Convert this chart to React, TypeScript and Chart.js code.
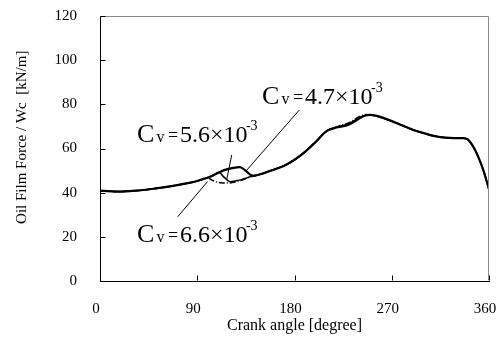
import React, { useEffect, useRef } from "react";
import { Chart, registerables } from "chart.js";

Chart.register(...registerables);

// Crank angle [degree]
const angles = [0, 10, 20, 30, 40, 50, 60, 70, 80, 90, 95, 100, 105, 110, 115, 120, 125, 130, 135, 140, 145, 150, 160, 170, 180, 190, 200, 210, 220, 230, 240, 245, 250, 255, 260, 270, 280, 290, 300, 310, 320, 330, 335, 340, 345, 350, 355, 360];

// Oil film force / Wc [kN/m]
const cv47 = [40.9, 40.6, 40.5, 40.8, 41.2, 41.8, 42.5, 43.3, 44.2, 45.3, 46.1, 46.9, 47.9, 49.1, 50.2, 50.9, 51.3, 51.5, 49.9, 47.9, 47.9, 48.6, 50.3, 52.1, 54.9, 58.6, 63.2, 68.0, 69.6, 70.8, 73.6, 74.8, 75.2, 74.9, 74.2, 72.4, 70.4, 68.4, 66.9, 65.6, 64.9, 64.7, 64.7, 64.2, 61.2, 56.3, 49.8, 41.5];
const cv56 = [40.9, 40.6, 40.5, 40.8, 41.2, 41.8, 42.5, 43.3, 44.2, 45.3, 46.1, 46.9, 47.9, 49.2, 46.9, 45.0, 45.3, 45.8, 46.5, 47.4, 47.9, 48.6, 50.3, 52.1, 54.9, 58.6, 63.2, 68.0, 69.8, 71.2, 74.0, 75.0, 75.2, 74.8, 74.1, 72.4, 70.4, 68.4, 66.9, 65.6, 64.9, 64.7, 64.7, 64.2, 61.2, 56.3, 49.8, 41.5];
const cv66 = [40.9, 40.6, 40.5, 40.8, 41.2, 41.8, 42.5, 43.3, 44.2, 45.3, 46.1, 46.6, 45.4, 44.6, 44.4, 44.4, 44.8, 45.5, 46.3, 47.3, 47.9, 48.6, 50.3, 52.1, 54.9, 58.6, 63.2, 68.0, 70.0, 71.6, 74.4, 75.3, 75.3, 74.7, 74.0, 72.4, 70.4, 68.4, 66.9, 65.6, 64.9, 64.7, 64.7, 64.2, 61.2, 56.3, 49.8, 41.5];

const seriesNames = ["Cv = 4.7×10-3", "Cv = 5.6×10-3", "Cv = 6.6×10-3"];
const cvNumbers = ["4.7", "5.6", "6.6"];

const xTickValues = [0, 90, 180, 270, 360];
const yTickValues = [0, 20, 40, 60, 80, 100, 120];

// annotation anchors in data units: label position and leader line ends
const labelX = [149.9, 34.2, 34.2];
const labelY = [80.0, 63.1, 17.8];
const leaderFromX = [184.4, 121.9, 71.9];
const leaderFromY = [77.4, 57.1, 29.1];
const leaderToX = [135.1, 117.2, 99.5];
const leaderToY = [49.8, 45.7, 45.0];

const FONT = "'Liberation Serif', 'Times New Roman', serif";

const frameAndTicks = {
  id: "frameAndTicks",
  afterDraw(chart: any) {
    const { ctx, chartArea, scales } = chart;
    const { left, right, top, bottom } = chartArea;
    ctx.save();
    ctx.lineWidth = 1;
    const L = Math.round(left) + 0.5;
    const R = Math.round(right) - 0.5;
    const T = Math.round(top) + 0.5;
    const B = Math.round(bottom) - 0.5;
    ctx.strokeStyle = "#8a8a8a";
    ctx.beginPath();
    ctx.moveTo(L, T);
    ctx.lineTo(R, T);
    ctx.lineTo(R, B);
    ctx.stroke();
    ctx.strokeStyle = "#000";
    ctx.beginPath();
    for (const v of xTickValues) {
      const px = Math.round(scales.x.getPixelForValue(v)) + 0.5;
      ctx.moveTo(px, B);
      ctx.lineTo(px, B - 5);
    }
    for (const v of yTickValues) {
      const py = Math.round(scales.y.getPixelForValue(v)) + 0.5;
      ctx.moveTo(L, py);
      ctx.lineTo(L + 5, py);
    }
    ctx.stroke();
    ctx.restore();
  },
};

const annotations = {
  id: "cvAnnotations",
  afterDatasetsDraw(chart: any) {
    const { ctx, scales } = chart;
    ctx.save();
    ctx.strokeStyle = "#000";
    ctx.fillStyle = "#000";
    ctx.lineWidth = 1;
    for (let i = 0; i < cvNumbers.length; i++) {
      ctx.beginPath();
      ctx.moveTo(scales.x.getPixelForValue(leaderFromX[i]), scales.y.getPixelForValue(leaderFromY[i]));
      ctx.lineTo(scales.x.getPixelForValue(leaderToX[i]), scales.y.getPixelForValue(leaderToY[i]));
      ctx.stroke();
      const x0 = scales.x.getPixelForValue(labelX[i]);
      const base = scales.y.getPixelForValue(labelY[i]);
      ctx.textAlign = "left";
      ctx.textBaseline = "alphabetic";
      ctx.font = `26px ${FONT}`;
      ctx.fillText("C", x0, base);
      ctx.font = `16px ${FONT}`;
      ctx.fillText("v", x0 + 19.5, base);
      ctx.font = `18px ${FONT}`;
      ctx.fillText("=", x0 + 31, base - 1);
      ctx.font = `24px ${FONT}`;
      ctx.fillText(cvNumbers[i] + "×10", x0 + 43, base);
      ctx.font = `14px ${FONT}`;
      ctx.fillText("-3", x0 + 109, base - 12);
    }
    ctx.restore();
  },
};

export default function App() {
  const ref = useRef<HTMLCanvasElement | null>(null);

  useEffect(() => {
    if (!ref.current) return;
    const styles = [
      { borderWidth: 2.2, borderDash: [] as number[] },
      { borderWidth: 1.5, borderDash: [] as number[] },
      { borderWidth: 1.5, borderDash: [6, 2, 1, 2] },
    ];
    const series = [cv47, cv56, cv66];
    const chart = new Chart(ref.current, {
      type: "line",
      data: {
        datasets: series.map((s, i) => ({
          label: seriesNames[i],
          data: angles.map((a, j) => ({ x: a, y: s[j] })),
          borderColor: "#000",
          backgroundColor: "#000",
          borderWidth: styles[i].borderWidth,
          borderDash: styles[i].borderDash,
          pointRadius: 0,
          tension: 0.35,
          fill: false,
        })),
      },
      options: {
        responsive: false,
        animation: false,
        layout: { padding: { top: 16, right: 10, left: 0, bottom: 0 } },
        plugins: { legend: { display: false }, tooltip: { enabled: false } },
        scales: {
          x: {
            type: "linear",
            min: 0,
            max: 360,
            afterFit: (s: any) => { s.height = 56; s.paddingLeft = 0; s.paddingRight = 0; },
            afterBuildTicks: (s: any) => { s.ticks = xTickValues.map((v) => ({ value: v })); },
            ticks: { color: "#000", padding: 11, labelOffset: -4, maxRotation: 0, font: { family: FONT, size: 15 } },
            grid: { display: false },
            border: { display: true, color: "#000", width: 1 },
            title: { display: true, text: "Crank angle [degree]", color: "#000", font: { family: FONT, size: 16 }, padding: { top: 0, bottom: 2 } },
          },
          y: {
            min: 0,
            max: 120,
            afterFit: (s: any) => { s.width = 100; s.paddingTop = 0; s.paddingBottom = 0; },
            afterBuildTicks: (s: any) => { s.ticks = yTickValues.map((v) => ({ value: v })); },
            ticks: { color: "#000", padding: 15, font: { family: FONT, size: 15 } },
            grid: { display: false },
            border: { display: true, color: "#000", width: 1 },
            title: { display: true, text: "      Oil Film Force / Wc  [kN/m]", color: "#000", font: { family: FONT, size: 15 }, padding: { top: 13, bottom: 0 } },
          },
        },
      } as any,
      plugins: [frameAndTicks, annotations],
    });
    return () => chart.destroy();
  }, []);

  return (
    <div style={{ position: "fixed", left: 0, top: 0, width: 499, height: 337, background: "#fff" }}>
      <canvas ref={ref} width={499} height={337} />
    </div>
  );
}
